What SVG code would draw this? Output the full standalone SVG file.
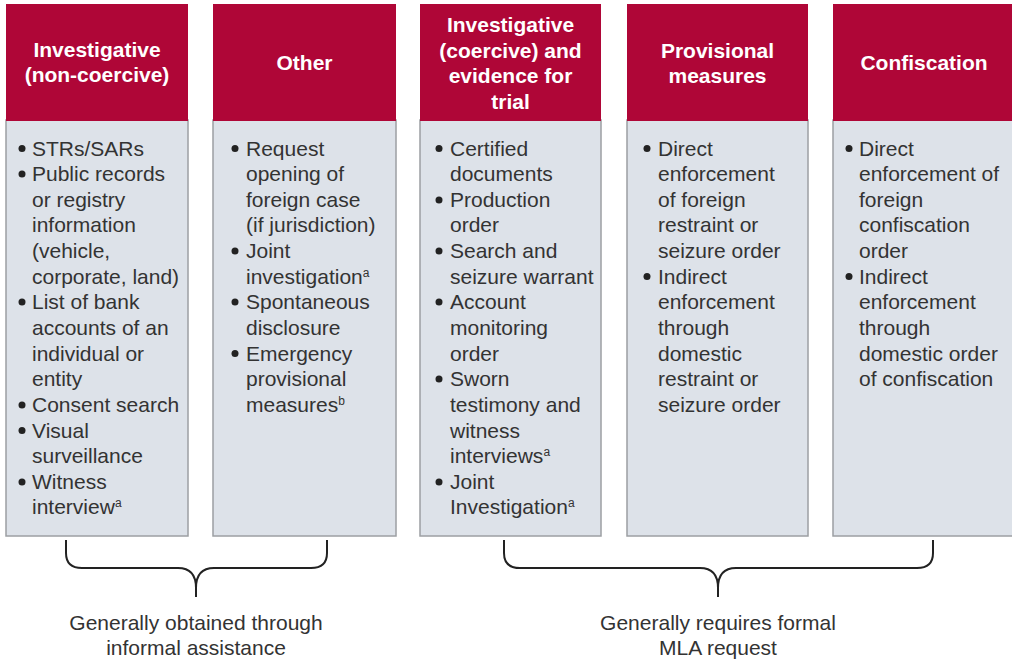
<svg xmlns="http://www.w3.org/2000/svg" width="1012" height="661" viewBox="0 0 1012 661">
<style>
.hd{fill:#af0637}
.bd{fill:#dde2e9;stroke:#9c9fa3;stroke-width:1.5}
.ht{font-family:"Liberation Sans",Arial,sans-serif;font-weight:bold;font-size:21px;fill:#fff;text-anchor:middle}
.t{font-family:"Liberation Sans",Arial,sans-serif;font-size:21px;fill:#333}
.sup{font-size:12px}
.dot{fill:#222}
.br{fill:none;stroke:#222;stroke-width:2}
.lb{font-family:"Liberation Sans",Arial,sans-serif;font-size:21px;fill:#333;text-anchor:middle}
</style>
<rect width="1012" height="661" fill="#fff"/>

<g id="col1">
<rect class="bd" x="6" y="120" width="182" height="416"/>
<rect class="hd" x="6" y="4" width="182" height="117"/>
<text class="ht" x="97" y="57">Investigative</text>
<text class="ht" x="97" y="82">(non-coercive)</text>
<circle class="dot" cx="22" cy="148.5" r="3.5"/>
<circle class="dot" cx="22" cy="174" r="3.5"/>
<circle class="dot" cx="22" cy="302" r="3.5"/>
<circle class="dot" cx="22" cy="405" r="3.5"/>
<circle class="dot" cx="22" cy="430.5" r="3.5"/>
<circle class="dot" cx="22" cy="482" r="3.5"/>
<text class="t" x="32" y="155.5">STRs/SARs</text>
<text class="t" x="32" y="181.1">Public records</text>
<text class="t" x="32" y="206.7">or registry</text>
<text class="t" x="32" y="232.4">information</text>
<text class="t" x="32" y="258">(vehicle,</text>
<text class="t" x="32" y="283.6">corporate, land)</text>
<text class="t" x="32" y="309.3">List of bank</text>
<text class="t" x="32" y="334.9">accounts of an</text>
<text class="t" x="32" y="360.6">individual or</text>
<text class="t" x="32" y="386.2">entity</text>
<text class="t" x="32" y="411.8">Consent search</text>
<text class="t" x="32" y="437.5">Visual</text>
<text class="t" x="32" y="463.1">surveillance</text>
<text class="t" x="32" y="488.7">Witness</text>
<text class="t" x="32" y="514.4">interview<tspan class="sup" dy="-7">a</tspan></text>
</g>

<g id="col2">
<rect class="bd" x="213" y="120" width="183" height="416"/>
<rect class="hd" x="213" y="4" width="183" height="117"/>
<text class="ht" x="304.5" y="70">Other</text>
<circle class="dot" cx="235" cy="148.5" r="3.5"/>
<circle class="dot" cx="235" cy="251" r="3.5"/>
<circle class="dot" cx="235" cy="302" r="3.5"/>
<circle class="dot" cx="235" cy="353.5" r="3.5"/>
<text class="t" x="246" y="155.5">Request</text>
<text class="t" x="246" y="181.1">opening of</text>
<text class="t" x="246" y="206.7">foreign case</text>
<text class="t" x="246" y="232.4">(if jurisdiction)</text>
<text class="t" x="246" y="258">Joint</text>
<text class="t" x="246" y="283.6">investigation<tspan class="sup" dy="-7">a</tspan></text>
<text class="t" x="246" y="309.3">Spontaneous</text>
<text class="t" x="246" y="334.9">disclosure</text>
<text class="t" x="246" y="360.6">Emergency</text>
<text class="t" x="246" y="386.2">provisional</text>
<text class="t" x="246" y="411.8">measures<tspan class="sup" dy="-7">b</tspan></text>
</g>

<g id="col3">
<rect class="bd" x="420" y="120" width="181" height="416"/>
<rect class="hd" x="420" y="4" width="181" height="117"/>
<text class="ht" x="510.5" y="32">Investigative</text>
<text class="ht" x="510.5" y="57.5">(coercive) and</text>
<text class="ht" x="510.5" y="83">evidence for</text>
<text class="ht" x="510.5" y="108.5">trial</text>
<circle class="dot" cx="439" cy="148.5" r="3.5"/>
<circle class="dot" cx="439" cy="200" r="3.5"/>
<circle class="dot" cx="439" cy="251" r="3.5"/>
<circle class="dot" cx="439" cy="302" r="3.5"/>
<circle class="dot" cx="439" cy="379" r="3.5"/>
<circle class="dot" cx="439" cy="482" r="3.5"/>
<text class="t" x="450" y="155.5">Certified</text>
<text class="t" x="450" y="181.1">documents</text>
<text class="t" x="450" y="206.7">Production</text>
<text class="t" x="450" y="232.4">order</text>
<text class="t" x="450" y="258">Search and</text>
<text class="t" x="450" y="283.6">seizure warrant</text>
<text class="t" x="450" y="309.3">Account</text>
<text class="t" x="450" y="334.9">monitoring</text>
<text class="t" x="450" y="360.6">order</text>
<text class="t" x="450" y="386.2">Sworn</text>
<text class="t" x="450" y="411.8">testimony and</text>
<text class="t" x="450" y="437.5">witness</text>
<text class="t" x="450" y="463.1">interviews<tspan class="sup" dy="-7">a</tspan></text>
<text class="t" x="450" y="488.7">Joint</text>
<text class="t" x="450" y="514.4">Investigation<tspan class="sup" dy="-7">a</tspan></text>
</g>

<g id="col4">
<rect class="bd" x="627" y="120" width="181" height="416"/>
<rect class="hd" x="627" y="4" width="181" height="117"/>
<text class="ht" x="717.5" y="57.5">Provisional</text>
<text class="ht" x="717.5" y="83">measures</text>
<circle class="dot" cx="647" cy="148.5" r="3.5"/>
<circle class="dot" cx="647" cy="276.5" r="3.5"/>
<text class="t" x="658" y="155.5">Direct</text>
<text class="t" x="658" y="181.1">enforcement</text>
<text class="t" x="658" y="206.7">of foreign</text>
<text class="t" x="658" y="232.4">restraint or</text>
<text class="t" x="658" y="258">seizure order</text>
<text class="t" x="658" y="283.6">Indirect</text>
<text class="t" x="658" y="309.3">enforcement</text>
<text class="t" x="658" y="334.9">through</text>
<text class="t" x="658" y="360.6">domestic</text>
<text class="t" x="658" y="386.2">restraint or</text>
<text class="t" x="658" y="411.8">seizure order</text>
</g>

<g id="col5">
<rect class="bd" x="833" y="120" width="184" height="416"/>
<rect class="hd" x="833" y="4" width="184" height="117"/>
<text class="ht" x="924" y="70">Confiscation</text>
<circle class="dot" cx="849" cy="148.5" r="3.5"/>
<circle class="dot" cx="849" cy="276.5" r="3.5"/>
<text class="t" x="859" y="155.5">Direct</text>
<text class="t" x="859" y="181.1">enforcement of</text>
<text class="t" x="859" y="206.7">foreign</text>
<text class="t" x="859" y="232.4">confiscation</text>
<text class="t" x="859" y="258">order</text>
<text class="t" x="859" y="283.6">Indirect</text>
<text class="t" x="859" y="309.3">enforcement</text>
<text class="t" x="859" y="334.9">through</text>
<text class="t" x="859" y="360.6">domestic order</text>
<text class="t" x="859" y="386.2">of confiscation</text>
</g>

<g id="connectors">
<path class="br" d="M66,540 V553 Q66,568 82,568 H178 Q196,568 196,588 V597 M196,588 Q196,568 214,568 H311 Q327,568 327,553 V540"/>
<path class="br" d="M504,540 V553 Q504,568 520,568 H700 Q718,568 718,588 V597 M718,588 Q718,568 736,568 H917 Q933,568 933,553 V540"/>
</g>

<g id="labels">
<text class="lb" x="196" y="629.5">Generally obtained through</text>
<text class="lb" x="196" y="654.5">informal assistance</text>
<text class="lb" x="718" y="629.5">Generally requires formal</text>
<text class="lb" x="718" y="654.5">MLA request</text>
</g>
</svg>
